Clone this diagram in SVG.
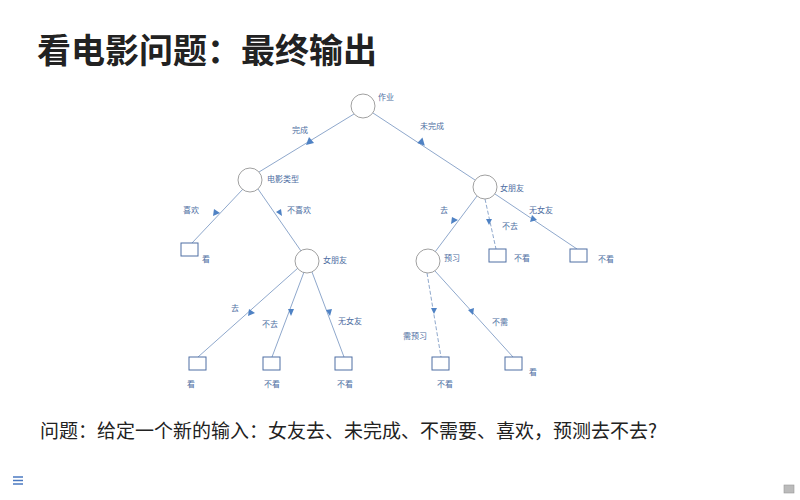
<svg xmlns="http://www.w3.org/2000/svg" width="800" height="500" viewBox="0 0 800 500">
  <defs>
    <style>
      .title { font-family: "Noto Sans CJK SC", "Noto Sans", sans-serif; font-weight: 700; font-size: 34px; fill: #222; }
      .question { font-family: "Noto Sans CJK SC", "Noto Sans", sans-serif; font-size: 19px; fill: #222; }
      .lbl { font-family: "Noto Sans CJK SC", sans-serif; font-size: 8px; fill: #4f6fa3; }
      .edge { stroke: #8fa8cc; stroke-width: 1; fill: none; }
      .dash { stroke-dasharray: 4 2; }
      .mid { stroke: none; fill: #4f82c4; }
      .node circle { fill: #fff; stroke: #888; stroke-width: 0.8; }
      .leaf rect { fill: #fff; stroke: #4f6fa3; stroke-width: 1; }
    </style>
  </defs>
  <rect width="800" height="500" fill="#fff"/>

  <text class="title" x="37" y="63">看电影问题：最终输出</text>

  <!-- connectors with arrowheads halfway along -->
  <g id="connectors">
    <line class="edge" x1="354" y1="114" x2="259" y2="172"/>
    <line class="edge" x1="373" y1="113" x2="475" y2="180"/>
    <line class="edge" x1="243" y1="189" x2="192" y2="243"/>
    <line class="edge" x1="258" y1="189" x2="301" y2="251"/>
    <line class="edge" x1="298" y1="268" x2="198" y2="357"/>
    <line class="edge" x1="304" y1="272" x2="272" y2="357"/>
    <line class="edge" x1="312" y1="272" x2="344" y2="357"/>
    <line class="edge" x1="477" y1="196" x2="435" y2="252"/>
    <line class="edge dash" x1="485" y1="199" x2="496" y2="249"/>
    <line class="edge" x1="495" y1="194" x2="577" y2="249"/>
    <line class="edge dash" x1="427" y1="273" x2="441" y2="357"/>
    <line class="edge" x1="435" y1="271" x2="513" y2="357"/>
    <path class="mid" d="M306,145 l3,-8 l5,6 z"/>
    <path class="mid" d="M426,145 l-8,0 l3,-7 z" transform="rotate(20 423 142)"/>
    <path class="mid" d="M213,216 l1,-7 l6,4 z"/>
    <path class="mid" d="M282,216 l-6,-4 l5,-3 z"/>
    <path class="mid" d="M248,316 l1,-7 l6,4 z"/>
    <path class="mid" d="M291,316 l-3,-7 l6,0 z"/>
    <path class="mid" d="M330,316 l-4,-6 l6,-1 z"/>
    <path class="mid" d="M451,224 l1,-7 l6,3 z"/>
    <path class="mid" d="M489,225 l-3,-6 l6,0 z"/>
    <path class="mid" d="M530,222 l2,-7 l5,5 z"/>
    <path class="mid" d="M434,314 l-3,-6 l6,0 z"/>
    <path class="mid" d="M473,315 l-5,-5 l6,-2 z"/>
  </g>

  <!-- decision nodes -->
  <g id="root" class="node">
    <circle cx="363" cy="106" r="12"/>
    <text class="lbl" x="378" y="100">作业</text>
  </g>
  <g id="movie-type" class="node">
    <circle cx="250" cy="180" r="12"/>
    <text class="lbl" x="267" y="182">电影类型</text>
  </g>
  <g id="girlfriend-left" class="node">
    <circle cx="307" cy="261" r="12"/>
    <text class="lbl" x="323" y="263">女朋友</text>
  </g>
  <g id="girlfriend-right" class="node">
    <circle cx="485" cy="187" r="12"/>
    <text class="lbl" x="500" y="191">女朋友</text>
  </g>
  <g id="preview" class="node">
    <circle cx="428" cy="261" r="12"/>
    <text class="lbl" x="444" y="261">预习</text>
  </g>

  <!-- leaves -->
  <g id="leaf-like" class="leaf">
    <rect x="181" y="243" width="17" height="13"/>
    <text class="lbl" x="202" y="262">看</text>
  </g>
  <g id="leaf-go" class="leaf">
    <rect x="189" y="357" width="17" height="13"/>
    <text class="lbl" x="187" y="387">看</text>
  </g>
  <g id="leaf-notgo" class="leaf">
    <rect x="263" y="357" width="17" height="13"/>
    <text class="lbl" x="264" y="387">不看</text>
  </g>
  <g id="leaf-nogf" class="leaf">
    <rect x="335" y="357" width="17" height="13"/>
    <text class="lbl" x="337" y="387">不看</text>
  </g>
  <g id="leaf-r-notgo" class="leaf">
    <rect x="489" y="249" width="17" height="13"/>
    <text class="lbl" x="514" y="261">不看</text>
  </g>
  <g id="leaf-r-nogf" class="leaf">
    <rect x="570" y="249" width="17" height="13"/>
    <text class="lbl" x="598" y="262">不看</text>
  </g>
  <g id="leaf-need" class="leaf">
    <rect x="432" y="357" width="17" height="13"/>
    <text class="lbl" x="437" y="387">不看</text>
  </g>
  <g id="leaf-noneed" class="leaf">
    <rect x="505" y="357" width="17" height="13"/>
    <text class="lbl" x="529" y="375">看</text>
  </g>

  <!-- edge labels -->
  <g id="edge-labels">
    <text class="lbl" x="292" y="133">完成</text>
    <text class="lbl" x="420" y="129">未完成</text>
    <text class="lbl" x="183" y="213">喜欢</text>
    <text class="lbl" x="287" y="213">不喜欢</text>
    <text class="lbl" x="231" y="311">去</text>
    <text class="lbl" x="262" y="327">不去</text>
    <text class="lbl" x="338" y="324">无女友</text>
    <text class="lbl" x="440" y="213">去</text>
    <text class="lbl" x="502" y="229">不去</text>
    <text class="lbl" x="529" y="213">无女友</text>
    <text class="lbl" x="403" y="339">需预习</text>
    <text class="lbl" x="492" y="325">不需</text>
  </g>

  <text class="question" x="40" y="438">问题：给定一个新的输入：女友去、未完成、不需要、喜欢，预测去不去?</text>

  <!-- menu icon -->
  <g stroke="#4a78c0" stroke-width="1.5">
    <line x1="13" y1="477" x2="23" y2="477"/>
    <line x1="13" y1="480.5" x2="23" y2="480.5"/>
    <line x1="13" y1="484" x2="23" y2="484"/>
  </g>
  <!-- page badge -->
  <rect x="784" y="485" width="10" height="8" fill="#bbb" stroke="#999" stroke-width="0.6"/>
</svg>
